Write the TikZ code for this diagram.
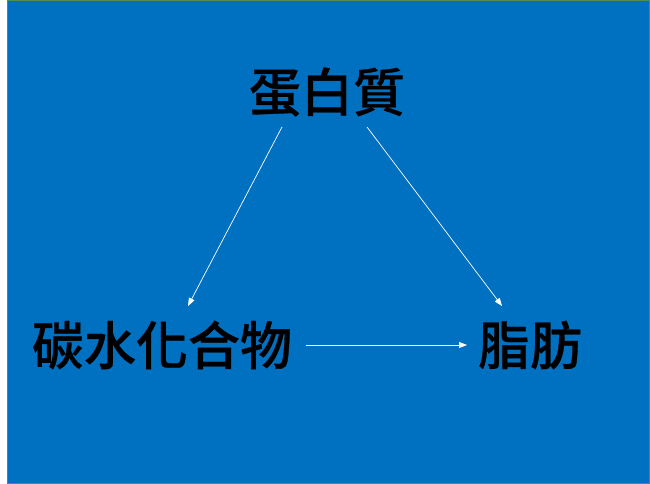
\documentclass[tikz,border=0pt]{standalone}
\usepackage{fontspec}
\newfontfamily\cjk{Noto Sans CJK TC Medium}[FakeBold=0.6]
\usetikzlibrary{arrows.meta,calc}
\definecolor{slideblue}{RGB}{0,112,192}
\definecolor{edgegreen}{RGB}{84,140,84}
\tikzset{
  label/.style={font=\cjk\fontsize{52}{60}\selectfont, text=black, inner sep=0pt, anchor=center},
  link/.style={draw=white, line width=0.7pt, -{Triangle[length=8pt,width=6pt]}}
}
\begin{document}
\begin{tikzpicture}[x=1pt,y=-1pt]
\useasboundingbox (0,0) rectangle (650,484);
\fill[white] (0,0) rectangle (650,484);
\fill[slideblue] (7,0) rectangle (650,484);
\draw[edgegreen, line width=1pt] (7.5,0.5) rectangle (649.5,483.5);
\node[label] (prot) at (327,92) {蛋白質};
\node[label] (carb) at (162,345) {碳水化合物};
\node[label] (fat) at (530,345) {脂肪};
\draw[link] ($(prot.center)+(-45,35)$) -- ($(carb.center)+(26,-39)$);
\draw[link] ($(prot.center)+(40,35)$) -- ($(fat.center)+(-28,-39)$);
\draw[link] ($(carb.center)+(144,0)$) -- ($(fat.center)+(-63,0)$);
\end{tikzpicture}
\end{document}
